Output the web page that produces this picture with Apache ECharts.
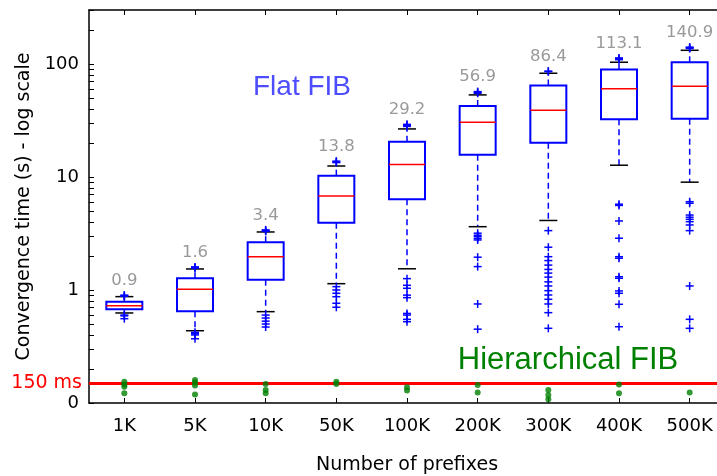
<!DOCTYPE html>
<html>
<head>
<meta charset="utf-8">
<title>Convergence time</title>
<script src="https://cdn.jsdelivr.net/npm/echarts@6/dist/echarts.min.js"></script>
<style>
  html, body { margin: 0; padding: 0; background: #fff; }
  #main { width: 717px; height: 476px; }
</style>
</head>
<body>
<div id="main"></div>
<script type="text/javascript">
// categories (number of prefixes)
var categories = ['1K', '5K', '10K', '50K', '100K', '200K', '300K', '400K', '500K'];

// flat FIB box stats (seconds)
var whiskerLow  = [0.626, 0.436, 0.643, 1.137, 1.54, 3.63, 4.12, 12.7, 8.99];
var q1          = [0.675, 0.648, 1.234, 3.94, 6.35, 15.7, 20.1, 32.4, 32.8];
var median      = [0.726, 1.014, 1.97, 6.79, 12.9, 30.5, 38.9, 60.4, 63.5];
var q3          = [0.788, 1.269, 2.64, 10.27, 20.5, 42.5, 64.3, 89.1, 103.5];
var whiskerHigh = [0.873, 1.534, 3.26, 12.5, 26.6, 53.2, 82.7, 103.5, 132];
var maxValues   = [0.9, 1.6, 3.4, 13.8, 29.2, 56.9, 86.4, 113.1, 140.9];

// outliers per category
var outliers = [
  [0.9, 0.89, 0.88, 0.6, 0.59, 0.557],
  [1.6, 1.58, 1.56, 0.422, 0.41, 0.40, 0.37],
  [3.4, 3.35, 3.3, 0.60, 0.565, 0.53, 0.50, 0.47],
  [13.8, 13.6, 13.4, 1.07, 1.0, 0.935, 0.872, 0.763, 0.703],
  [29.2, 28.6, 28.0, 1.26, 1.1, 1.035, 0.9, 0.855, 0.62, 0.60, 0.55, 0.524],
  [56.9, 56, 55, 3.18, 3.05, 2.96, 2.85, 2.77, 1.95, 1.61, 0.752, 0.45],
  [86.4, 85.5, 3.35, 2.39, 1.97, 1.82, 1.66, 1.52, 1.41, 1.30, 1.18, 1.085, 0.986, 0.903, 0.827, 0.752, 0.63, 0.458],
  [113.1, 111, 109, 5.74, 5.6, 4.08, 2.87, 1.97, 1.91, 1.31, 1.27, 0.98, 0.935, 0.747, 0.473],
  [140.9, 139, 137, 6.04, 5.85, 4.6, 4.4, 4.22, 4.02, 3.76, 3.35, 1.085, 0.55, 0.458]
];

// hierarchical FIB points per category
var hierPoints = [
  [0.154, 0.146, 0.139, 0.122],
  [0.16, 0.152, 0.143, 0.119],
  [0.147, 0.130, 0.122],
  [0.154, 0.147],
  [0.138, 0.129],
  [0.144, 0.124],
  [0.130, 0.118, 0.108],
  [0.146, 0.122],
  [0.124]
];

var yMajorTicks = [0.1, 1, 10, 100];
var yAllTicks = [0.1, 0.2, 0.3, 0.4, 0.5, 0.6, 0.7, 0.8, 0.9,
                 1, 2, 3, 4, 5, 6, 7, 8, 9,
                 10, 20, 30, 40, 50, 60, 70, 80, 90,
                 100, 200, 300];
var thresholdValue = 0.15;

var boxData = [], outlierData = [], hierData = [], maxData = [];
for (var i = 0; i < categories.length; i++) {
  boxData.push([i, whiskerLow[i], q1[i], median[i], q3[i], whiskerHigh[i]]);
  maxData.push([i, maxValues[i]]);
  for (var j = 0; j < outliers[i].length; j++) outlierData.push([i, outliers[i][j]]);
  for (var k = 0; k < hierPoints[i].length; k++) hierData.push([i, hierPoints[i][k]]);
}

var BLUE = '#0000ff';
var axisFont = 'DejaVu Sans';

function renderBox(params, api) {
  var idx = api.value(0);
  var lo = api.coord([idx, api.value(1)]);
  var b1 = api.coord([idx, api.value(2)]);
  var md = api.coord([idx, api.value(3)]);
  var b3 = api.coord([idx, api.value(4)]);
  var hi = api.coord([idx, api.value(5)]);
  var x = lo[0], hw = 18, cw = 9;
  var dash = { stroke: BLUE, lineWidth: 1.5, lineDash: [6, 4], fill: null };
  var cap = { stroke: '#000', lineWidth: 1.5, fill: null };
  return {
    type: 'group',
    children: [
      { type: 'line', shape: { x1: x, y1: b3[1], x2: x, y2: hi[1] }, style: dash },
      { type: 'line', shape: { x1: x, y1: b1[1], x2: x, y2: lo[1] }, style: dash },
      { type: 'line', shape: { x1: x - cw, y1: hi[1], x2: x + cw, y2: hi[1] }, style: cap },
      { type: 'line', shape: { x1: x - cw, y1: lo[1], x2: x + cw, y2: lo[1] }, style: cap },
      { type: 'rect', shape: { x: x - hw, y: b3[1], width: hw * 2, height: b1[1] - b3[1] },
        style: { fill: '#fff', stroke: BLUE, lineWidth: 2 } },
      { type: 'line', shape: { x1: x - hw, y1: md[1], x2: x + hw, y2: md[1] },
        style: { stroke: '#ff0000', lineWidth: 1.5 } }
    ]
  };
}

function renderPlus(params, api) {
  var p = api.coord([api.value(0), api.value(1)]);
  var s = 4;
  var st = { stroke: BLUE, lineWidth: 1.5 };
  return {
    type: 'group',
    children: [
      { type: 'line', shape: { x1: p[0] - s, y1: p[1], x2: p[0] + s, y2: p[1] }, style: st },
      { type: 'line', shape: { x1: p[0], y1: p[1] - s, x2: p[0], y2: p[1] + s }, style: st }
    ]
  };
}

var myChart = echarts.init(document.getElementById('main'), null, { renderer: 'canvas' });

var option = {
  animation: false,
  backgroundColor: '#fff',
  grid: { left: 89, top: 10, bottom: 73, width: 636, containLabel: false, outerBoundsMode: 'none' },
  xAxis: [{
    type: 'category',
    data: categories,
    position: 'bottom',
    axisLine: { show: true, lineStyle: { color: '#000', width: 1.5 } },
    axisTick: { show: true, inside: true, alignWithLabel: true, length: 5, lineStyle: { color: '#000' } },
    axisLabel: { color: '#000', fontSize: 18, fontFamily: axisFont, margin: 14 },
    splitLine: { show: false },
    name: 'Number of prefixes',
    nameLocation: 'middle',
    nameGap: 53,
    nameTextStyle: { color: '#000', fontSize: 19, fontFamily: axisFont }
  }, {
    type: 'category',
    data: categories,
    position: 'top',
    axisLine: { show: true, lineStyle: { color: '#000', width: 1.5 } },
    axisTick: { show: true, inside: true, alignWithLabel: true, length: 5, lineStyle: { color: '#000' } },
    axisLabel: { show: false },
    splitLine: { show: false }
  }],
  yAxis: {
    type: 'log',
    logBase: 10,
    min: 0.1,
    max: 300,
    axisLine: { show: true, lineStyle: { color: '#000', width: 1.5 } },
    axisTick: { show: true, inside: true, length: 5, customValues: yAllTicks, lineStyle: { color: '#000' } },
    axisLabel: {
      color: '#000', fontSize: 18, fontFamily: axisFont, margin: 10,
      customValues: yMajorTicks,
      formatter: function (v) { return v < 0.5 ? '0' : String(Math.round(v)); }
    },
    splitLine: { show: false },
    name: 'Convergence time (s) - log scale',
    nameLocation: 'middle',
    nameGap: 50,
    nameTextStyle: { color: '#000', fontSize: 19, fontFamily: axisFont }
  },
  series: [{
    name: 'Flat FIB',
    type: 'custom',
    renderItem: renderBox,
    encode: { x: 0, y: [1, 2, 3, 4, 5] },
    data: boxData,
    z: 3
  }, {
    name: 'outliers',
    type: 'custom',
    renderItem: renderPlus,
    encode: { x: 0, y: 1 },
    data: outlierData,
    z: 4
  }, {
    name: 'max',
    type: 'scatter',
    data: maxData,
    symbolSize: 8,
    itemStyle: { color: 'transparent' },
    label: {
      show: true, position: 'top', distance: 2,
      color: '#808080', fontSize: 16.5, fontFamily: axisFont,
      formatter: function (p) { return p.value[1].toFixed(1); }
    },
    silent: true,
    z: 5
  }, {
    name: 'Hierarchical FIB',
    type: 'scatter',
    data: hierData,
    symbolSize: 6,
    itemStyle: { color: '#008000' },
    z: 6,
    markLine: {
      silent: true,
      symbol: 'none',
      data: [{ yAxis: thresholdValue }],
      lineStyle: { color: '#ff0000', width: 3, type: 'solid' },
      label: {
        show: true, position: 'start', distance: 7,
        formatter: '150 ms', color: '#ff0000', fontSize: 19, fontFamily: axisFont
      }
    }
  }],
  graphic: [{
    type: 'text',
    x: 302, y: 87,
    style: { text: 'Flat FIB', fill: '#4d4dff', font: '28px "Liberation Sans"', textAlign: 'center', textVerticalAlign: 'middle' },
    z: 10
  }, {
    type: 'text',
    x: 568, y: 360,
    style: { text: 'Hierarchical FIB', fill: '#008000', font: '31px "Liberation Sans"', textAlign: 'center', textVerticalAlign: 'middle' },
    z: 10
  }]
};

myChart.setOption(option);
</script>
</body>
</html>
